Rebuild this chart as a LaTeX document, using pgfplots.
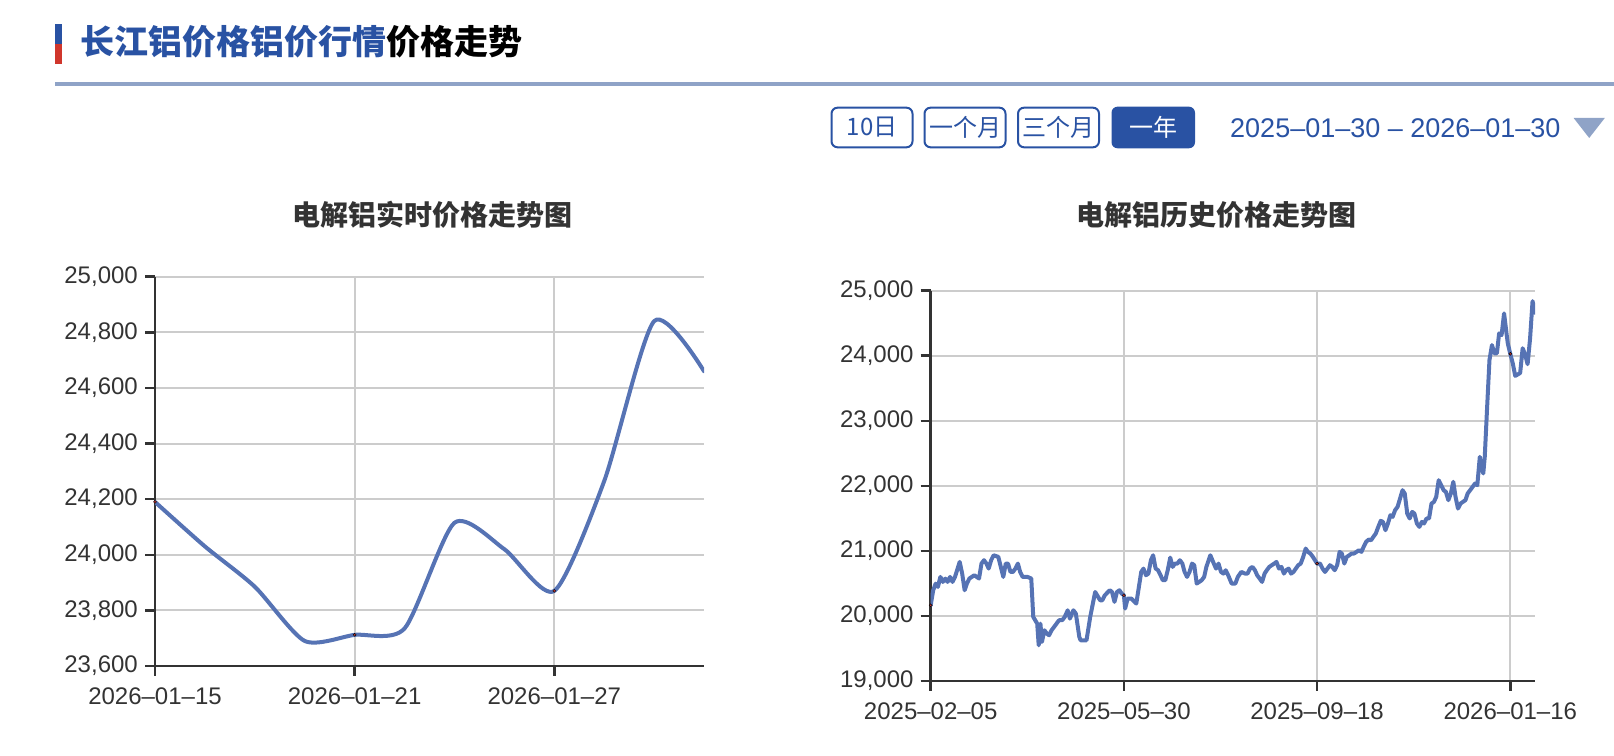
\documentclass[border=0pt]{standalone}
\usepackage{fontspec}
\usepackage{pgfplots}
\pgfplotsset{compat=1.18}
\setmainfont{Liberation Sans}
\newfontfamily\cjk{Noto Sans CJK SC}
\definecolor{hblue}{HTML}{2952A3}
\definecolor{hred}{HTML}{D0362C}
\definecolor{lineblue}{HTML}{5673B4}
\definecolor{dotred}{HTML}{C23531}
\definecolor{gridc}{HTML}{CCCCCC}
\definecolor{axc}{HTML}{333333}
\definecolor{rulec}{HTML}{8FA3C7}
\pgfplotsset{
  echart/.style={
    scale only axis, anchor=south west,
    axis lines*=left, axis line style={axc, line width=2.5bp, -},
    grid=major, major grid style={gridc, line width=2bp},
    tick align=outside, major tick length=10bp, tick style={axc, line width=2.5bp},
    tick label style={font=\fontsize{24bp}{28bp}\selectfont, text=axc},
    scaled y ticks=false,
    /pgf/number format/fixed, /pgf/number format/precision=0,
    /pgf/number format/1000 sep={,},
    /pgf/number format/assume math mode=true,
    xticklabel style={anchor=north, inner sep=0pt}, xticklabel shift=12bp,
    yticklabel style={anchor=east, inner sep=0pt}, yticklabel shift=7bp,
    clip=true,
  }
}
\begin{document}
\begin{tikzpicture}[x=1bp,y=1bp]
\path[use as bounding box] (0,0) rectangle (1614,756);
% header
\fill[hblue] (54.5,732) rectangle (61.5,712);
\fill[hred] (54.5,712) rectangle (61.5,692);
\node[anchor=west, inner sep=0pt] at (80,714) {\cjk\bfseries\fontsize{34bp}{41bp}\selectfont\textcolor{hblue}{长江铝价格铝价行情}价格走势};
\fill[rulec] (54.5,670) rectangle (1614,674);
% buttons
\draw[hblue, line width=2bp, rounded corners=6bp, fill=white] (831.5,608.7) rectangle (912.5,648.3);
\draw[hblue, line width=2bp, rounded corners=6bp, fill=white] (924.5,608.7) rectangle (1005.5,648.3);
\draw[hblue, line width=2bp, rounded corners=6bp, fill=white] (1018,608.7) rectangle (1099,648.3);
\fill[hblue, rounded corners=6bp] (1111.5,607.7) rectangle (1195,649.3);
\node[hblue] at (872,628.5) {\cjk\fontsize{24bp}{28bp}\selectfont 10日};
\node[hblue] at (965,628.5) {\cjk\fontsize{24bp}{28bp}\selectfont 一个月};
\node[hblue] at (1058.5,628.5) {\cjk\fontsize{24bp}{28bp}\selectfont 三个月};
\node[white] at (1153.3,628.5) {\cjk\fontsize{24bp}{28bp}\selectfont 一年};
\node[anchor=west, inner sep=0pt, hblue] at (1230,628) {\fontsize{27bp}{32bp}\selectfont 2025–01–30 – 2026–01–30};
\fill[rulec] (1573.6,638) -- (1604.8,638) -- (1589.2,618) -- cycle;
% subtitles
\node[axc] at (432,541) {\cjk\bfseries\fontsize{28bp}{34bp}\selectfont 电解铝实时价格走势图};
\node[axc] at (1216,541) {\cjk\bfseries\fontsize{28bp}{34bp}\selectfont 电解铝历史价格走势图};

\begin{axis}[echart,
  at={(155bp,90bp)}, width=549bp, height=389.3bp,
  xmin=0, xmax=11, ymin=23600, ymax=25000,
  xtick={0,4,8}, xticklabels={2026–01–15,2026–01–21,2026–01–27},
  ytick={23600,23800,24000,24200,24400,24600,24800,25000}]
\addplot[lineblue, line width=4bp, smooth, tension=0.42, line join=round, line cap=round] coordinates {
(0,24190) (1,24030) (2,23885) (3,23690) (4,23712) (5,23735) (6,24115) (7,24020) (8,23870) (9,24265) (10,24840) (11,24660)};
\addplot[only marks, mark=*, mark size=1.5bp, mark options={draw=none, fill=dotred}] coordinates {(0,24190) (4,23712) (8,23870)};
\end{axis}

\begin{axis}[echart,
  at={(930.7bp,75bp)}, width=604.3bp, height=390.3bp,
  xmin=0, xmax=244, ymin=19000, ymax=25000,
  xtick={0,78,156,234}, xticklabels={2025–02–05,2025–05–30,2025–09–18,2026–01–16},
  ytick={19000,20000,21000,22000,23000,24000,25000}]
\addplot[lineblue, line width=4bp, line join=round, line cap=round] coordinates {
(0,20164) (1.0,20395) (2.0,20497) (2.9,20446) (3.9,20600) (4.9,20523) (5.9,20574) (6.8,20523) (7.8,20600) (8.8,20523) (9.8,20600)
(11.7,20831) (12.7,20651) (13.7,20395) (14.6,20498) (15.6,20575) (17.6,20626) (19.5,20575) (20.5,20805) (21.5,20857) (22.5,20805)
(23.4,20728) (24.4,20857) (25.4,20933) (27.3,20908) (29.3,20600) (30.3,20805) (31.2,20805) (32.2,20677) (33.2,20677) (34.2,20728)
(35.2,20805) (36.1,20677) (37.1,20600) (39.1,20600) (40.6,20575) (41.4,19985) (43.0,19882) (43.6,19549) (44.3,19882) (44.9,19600)
(45.9,19780) (46.9,19728) (47.8,19703) (48.8,19780) (49.8,19831) (50.8,19882) (51.8,19934) (53.1,19934) (54.1,19985) (55.3,20087)
(56.2,19959) (57.6,20087) (58.6,20036) (60.0,19677) (60.5,19626) (62.9,19626) (64.4,19985) (66.4,20369) (68.4,20241) (69.3,20241)
(70.3,20318) (72.3,20395) (73.2,20369) (74.2,20216) (75.2,20369) (76.2,20395) (77.1,20344) (78,20318) (78.5,20113) (79.5,20267)
(81.0,20267) (83.0,20190) (85.0,20677) (85.9,20728) (86.9,20626) (87.9,20651) (88.9,20857) (89.8,20933) (90.8,20728) (91.8,20703)
(92.8,20626) (93.7,20549) (94.7,20549) (95.7,20703) (96.7,20897) (97.7,20754) (98.6,20805) (99.6,20805) (100.6,20857) (101.6,20805)
(102.5,20677) (103.5,20600) (104.5,20677) (105.5,20805) (106.4,20780) (107.4,20498) (108.4,20523) (109.4,20549) (110.4,20600)
(111.3,20754) (112.9,20933) (114.3,20805) (115.2,20728) (116.2,20805) (117.2,20677) (118.2,20651) (119.1,20703) (120.1,20626)
(121.5,20498) (123.0,20498) (124.0,20600) (125.4,20677) (126.9,20651) (127.9,20651) (128.9,20728) (129.9,20754) (130.9,20703)
(131.8,20626) (132.8,20575) (133.8,20523) (134.8,20651) (135.7,20703) (136.7,20754) (137.7,20780) (138.7,20805) (139.6,20831)
(140.6,20728) (141.6,20754) (142.6,20651) (143.5,20703) (144.5,20728) (145.5,20651) (146.5,20677) (147.4,20728) (148.4,20780)
(149.4,20805) (150.4,20908) (151.4,21036) (152.3,20985) (153.3,20959) (154.3,20908) (156,20805) (157.2,20805) (158.2,20728)
(159.2,20677) (160.2,20728) (161.2,20780) (162.1,20754) (163.1,20703) (164.1,20780) (165.1,20985) (166.0,20959) (167.0,20805)
(168.0,20908) (169.0,20933) (169.9,20959) (170.9,20959) (171.9,20985) (172.9,21010) (173.9,20985) (174.8,21062) (175.8,21139)
(176.8,21174) (177.8,21164) (178.7,21215) (179.7,21267) (180.7,21369) (181.7,21462) (182.6,21446) (183.6,21318) (184.6,21421)
(185.6,21549) (186.5,21523) (187.5,21626) (188.5,21677) (189.5,21805) (190.5,21933) (191.4,21882) (192.4,21574) (193.4,21498)
(194.4,21600) (195.3,21574) (196.3,21421) (197.3,21369) (198.3,21446) (199.2,21421) (200.2,21498) (201.2,21498) (202.2,21728)
(203.2,21754) (204.1,21831) (205.1,22087) (206.1,22010) (207.1,21933) (208.0,21908) (209.0,21780) (210.0,21882) (211.0,22062)
(211.9,21831) (212.9,21651) (213.9,21728) (214.9,21754) (215.9,21780) (216.8,21882) (217.8,21933) (218.8,21985) (219.8,22036)
(220.7,22010) (221.7,22446) (222.7,22241) (223.1,22190) (223.7,22446) (224.6,23164) (225.6,23933) (226.6,24164) (227.6,24036)
(228.6,24036) (229.5,24344) (230.5,24318) (231.5,24651) (232.5,24340) (233,24190) (234,24030) (235,23885) (236,23690) (237,23712)
(238,23735) (239,24115) (240,24020) (241,23870) (242,24265) (243,24840) (244,24660)};
\addplot[only marks, mark=*, mark size=1.5bp, mark options={draw=none, fill=dotred}] coordinates {(0,20164) (78,20318) (156,20805) (234,24030)};
\end{axis}
\end{tikzpicture}
\end{document}
